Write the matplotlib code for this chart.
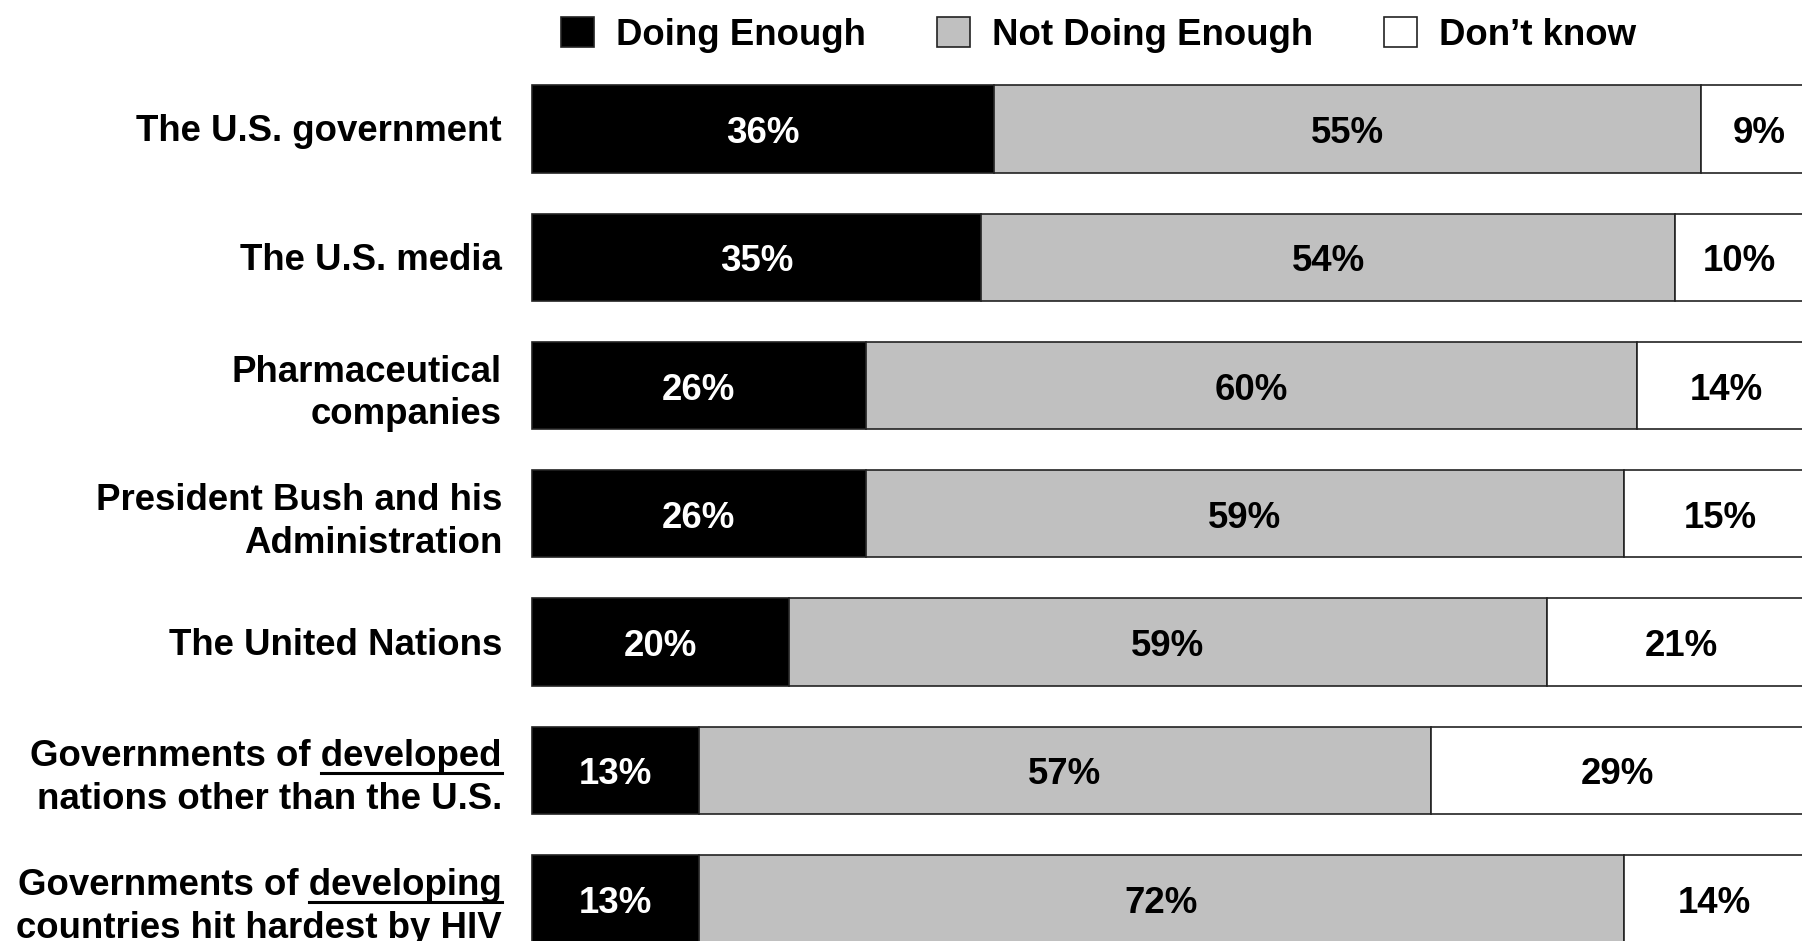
import matplotlib
matplotlib.use("Agg")
import matplotlib.pyplot as plt
import numpy as np
from matplotlib.lines import Line2D

# ----------------------------
# Survey data (percent of respondents)
# ----------------------------
categories = [
    "The U.S. government",
    "The U.S. media",
    "Pharmaceutical\ncompanies",
    "President Bush and his\nAdministration",
    "The United Nations",
    "Governments of developed\nnations other than the U.S.",
    "Governments of developing\ncountries hit hardest by HIV",
]
underlined_words = ["", "", "", "", "", "developed", "developing"]

doing_enough = [36, 35, 26, 26, 20, 13, 13]
not_doing_enough = [55, 54, 60, 59, 59, 57, 72]
dont_know = [9, 10, 14, 15, 21, 29, 14]

series_names = ["Doing Enough", "Not Doing Enough", "Don\u2019t know"]
series_colors = ["black", "#c0c0c0", "white"]
text_colors = ["white", "black", "black"]

# ----------------------------
# Layout
# ----------------------------
plt.rcParams["font.family"] = ["Liberation Sans", "DejaVu Sans"]
FS = 26.4

W, H = 1802, 941
fig = plt.figure(figsize=(W / 100, H / 100), dpi=100)

bar_left_px = 531.7      # where 0% sits
px_per_pct = 12.85
row_px = 128.3
first_row_px = 128.9

ax = fig.add_axes([bar_left_px / W, 0, 1 - bar_left_px / W, 1])
ax.set_xlim(0, (W - bar_left_px) / px_per_pct)
ax.set_ylim((H - first_row_px) / row_px, -first_row_px / row_px)
ax.axis("off")

y = np.arange(len(categories))
left = np.zeros(len(categories))
value_shift = 4.5 / row_px   # nudge the value labels down a touch

for vals, name, color, tcolor in zip([doing_enough, not_doing_enough, dont_know],
                                     series_names, series_colors, text_colors):
    vals = np.array(vals, dtype=float)
    ax.barh(y, vals, left=left, height=0.68, color=color, edgecolor="#222222",
            linewidth=1.2, label=name, clip_on=False)
    for yi, l, v in zip(y, left, vals):
        ax.text(l + v / 2, yi + value_shift, f"{int(v)}%", ha="center", va="center",
                color=tcolor, fontsize=FS, fontweight="bold")
    left += vals

# ----------------------------
# Row labels (two-line labels sit a bit low, like the original slide)
# ----------------------------
label_x = (502 - bar_left_px) / px_per_pct
underline_jobs = []
for yi, label, word in zip(y, categories, underlined_words):
    lines = label.split("\n")
    offsets = [12.5] if len(lines) == 1 else [-4, 39]
    for i, (line, off) in enumerate(zip(lines, offsets)):
        t = ax.text(label_x, yi + off / row_px, line, ha="right", va="baseline",
                    fontsize=FS, fontweight="bold", color="black")
        if i == 0 and word:
            underline_jobs.append((t, word))

# underline the emphasised word at the end of the first line
fig.canvas.draw()
renderer = fig.canvas.get_renderer()
to_fig = fig.transFigure.inverted()
for t, word in underline_jobs:
    probe = fig.text(0, 0, word, fontsize=FS, fontweight="bold")
    w = probe.get_window_extent(renderer).width
    probe.remove()
    xr, base = ax.transData.transform(t.get_position())
    yl = base - 7
    (fx0, fy), (fx1, _) = to_fig.transform([(xr - w, yl), (xr, yl)])
    fig.add_artist(Line2D([fx0, fx1], [fy, fy], color="black", lw=2.2))

# ----------------------------
# Legend
# ----------------------------
handles, labels = ax.get_legend_handles_labels()
fig.legend(handles, labels, loc="center", bbox_to_anchor=(0.6096, 0.9629),
           ncol=3, frameon=False, prop={"size": FS, "weight": "bold"},
           handlelength=0.9, handleheight=0.9, handletextpad=0.6,
           columnspacing=1.93, borderpad=0, borderaxespad=0)

fig.savefig("out.png", dpi=100)
